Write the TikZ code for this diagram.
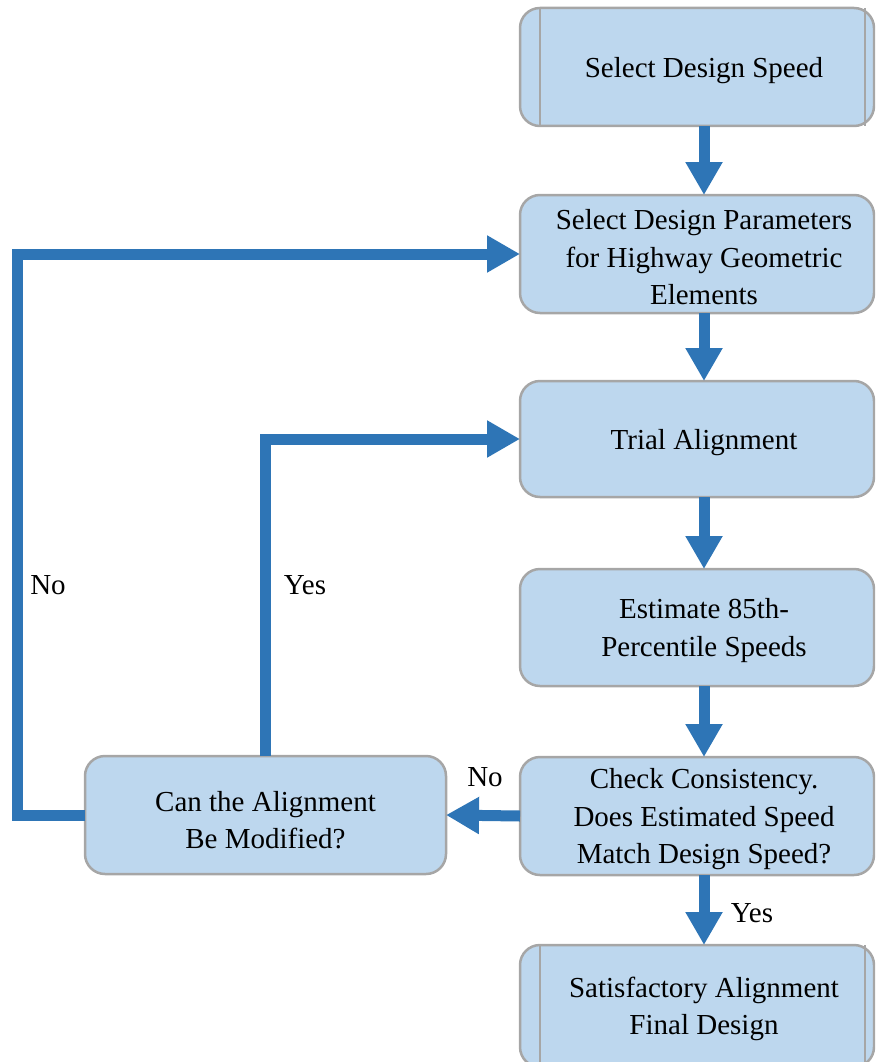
\documentclass[tikz,border=0pt]{standalone}
\usepackage{fontspec}
\setmainfont{Liberation Serif}
\usetikzlibrary{arrows.meta}
\pgfdeclarelayer{background}
\pgfsetlayers{background,main}

\definecolor{boxfill}{HTML}{BDD7EE}
\definecolor{boxline}{HTML}{A6A6A6}
\definecolor{flowblue}{HTML}{2E75B6}

\begin{document}
\begin{tikzpicture}[x=1pt,y=-1pt,
  txt/.style={font=\fontsize{29}{37.5}\selectfont, text=black},
  stepbox/.style={txt, align=center, inner sep=0pt, outer sep=0pt,
    minimum width=#1, minimum height=118pt, text depth=-3pt},
  stepbox/.default=368pt,
  outline/.style={draw=boxline, line width=2.5pt, fill=boxfill, rounded corners=20pt},
  bar/.style={draw=boxline, line width=2.5pt},
  flow/.style={draw=flowblue, line width=11pt,
    -{Triangle[length=33pt,width=35pt]}},
  lbl/.style={txt, inner sep=0pt}
]
\useasboundingbox (0,0) rectangle (875,1062);
\clip (0,0) rectangle (875,1062);

% process steps (right column text centred at x = 704)
\node[stepbox] (s1) at (704,67) {Select Design Speed};
\node[stepbox, text height=101pt, text depth=0pt] (s2) at (704,254) {Select Design Parameters\\for Highway Geometric\\Elements};
\node[stepbox, minimum height=116pt] (s3) at (704,439) {Trial Alignment};
\node[stepbox, minimum height=117pt] (s4) at (704,627.5) {Estimate 85th-\\Percentile Speeds};
\node[stepbox] (s5) at (704,816) {Check Consistency.\\Does Estimated Speed\\Match Design Speed?};
\node[stepbox=361pt, text height=67pt, text depth=0pt] (mod) at (265.5,815) {Can the Alignment\\Be Modified?};
\node[stepbox, minimum height=122pt] (s7) at (704,1006) {Satisfactory Alignment\\Final Design};

% box outlines behind the text
\begin{pgfonlayer}{background}
  \clip (0,0) rectangle (875,1062);
  \foreach \n in {s1,s2,s3,s4,s5,s7}
    \draw[outline] (\n.north west) rectangle ([xshift=-14pt]\n.south east);
  \draw[outline] (mod.north west) rectangle (mod.south east);
  % side bars of the terminal boxes
  \foreach \n in {s1,s7} {
    \draw[bar] ([xshift=20pt]\n.north west) -- ([xshift=20pt]\n.south west);
    \draw[bar] ([xshift=-23pt]\n.north east) -- ([xshift=-23pt]\n.south east);
  }
\end{pgfonlayer}

% main sequence
\draw[flow] (s1.south) -- (s2.north);
\draw[flow] (s2.south) -- (s3.north);
\draw[flow] (s3.south) -- (s4.north);
\draw[flow] (s4.south) -- (s5.north);
\draw[flow] (s5.south) -- (s7.north);
\draw[flow] (s5.west) -- (mod.east);

% feedback loops
\coordinate (loopL) at (17.5,815);
\draw[flow] (mod.west) -- (loopL) |- (s2.west);
\draw[flow] (mod.north) |- (s3.west);

% branch labels
\node[lbl] (noL) at (48,585) {No};
\node[lbl] (yesL) at (305,585) {Yes};
\node[lbl] (noM) at (485,777) {No};
\node[lbl] (yesB) at (752,913) {Yes};
\end{tikzpicture}
\end{document}
